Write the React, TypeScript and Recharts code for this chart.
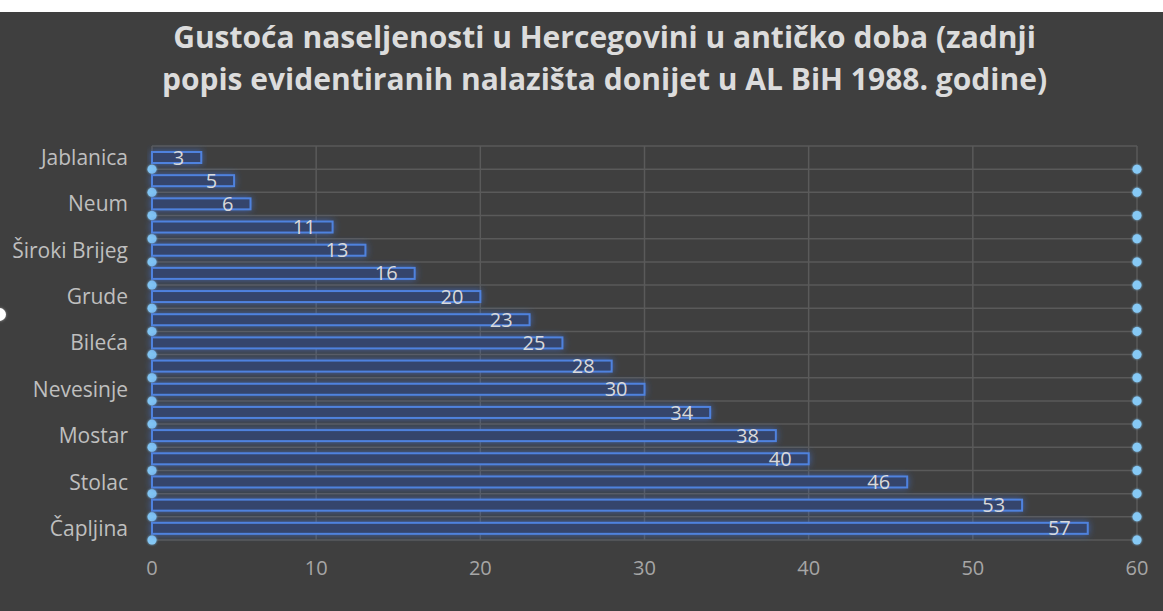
import React from 'react';
import { BarChart, Bar, XAxis, YAxis, CartesianGrid, LabelList } from 'recharts';

// only every second municipality is labelled in the source chart
const names = [
  'Jablanica', '', 'Neum', '', 'Široki Brijeg', '', 'Grude', '', 'Bileća',
  '', 'Nevesinje', '', 'Mostar', '', 'Stolac', '', 'Čapljina',
];
const counts = [3, 5, 6, 11, 13, 16, 20, 23, 25, 28, 30, 34, 38, 40, 46, 53, 57];
const xTicks = [0, 10, 20, 30, 40, 50, 60];
const titleLines = [
  'Gustoća naseljenosti u Hercegovini u antičko doba (zadnji',
  'popis evidentiranih nalazišta donijet u AL BiH 1988. godine)',
];

const data = names.map((name, i) => ({ name, value: counts[i] }));

const FONT = '"Open Sans", Lato, sans-serif';
const BG = '#3f3f3f';
const GRID = '#5a5a5a';

const bandLines = ({ offset }: any) =>
  Array.from({ length: data.length + 1 }, (_, i) => offset.top + (i * offset.height) / data.length);

const GridRow = (p: any) => {
  const { x1, x2, y1, y2, index } = p;
  return (
    <g key={`row-${index}-${y1}`}>
      <line x1={x1} x2={x2} y1={y1} y2={y2} stroke={GRID} strokeWidth={1.5} />
      {index > 0 && (
        <>
          <circle cx={x1} cy={y1} r={4.5} fill="#86c9f5" filter="url(#dotGlow)" />
          <circle cx={x2} cy={y1} r={4.5} fill="#86c9f5" filter="url(#dotGlow)" />
        </>
      )}
    </g>
  );
};

const GlowBar = (p: any) => {
  const { x, y, width, height } = p;
  if (!width) return null;
  return (
    <rect
      x={x}
      y={y}
      width={width}
      height={height}
      fill="#34456c"
      stroke="#4f82de"
      strokeWidth={2}
      filter="url(#barGlow)"
    />
  );
};

export default function App() {
  return (
    <div style={{ position: 'absolute', left: 0, top: 0, width: 1163, height: 611, background: '#fff', overflow: 'hidden' }}>
      <div style={{ position: 'absolute', left: 0, top: 12, width: 1163, height: 599, background: BG }}>
        <div
          style={{
            position: 'absolute',
            left: 46,
            top: 4,
            width: 1117,
            textAlign: 'center',
            fontFamily: FONT,
            fontWeight: 700,
            fontSize: 30,
            lineHeight: '42px',
            color: '#dcdcdc',
          }}
        >
          {titleLines.map((t) => (
            <div key={t}>{t}</div>
          ))}
        </div>
        <BarChart
          width={1163}
          height={599}
          data={data}
          layout="vertical"
          margin={{ top: 134, right: 26, bottom: 31, left: 0 }}
          barSize={11}
        >
          <defs>
            <filter id="barGlow" x="-10%" y="-100%" width="120%" height="300%">
              <feGaussianBlur in="SourceAlpha" stdDeviation="3.5" result="b" />
              <feFlood floodColor="#3f6fd0" floodOpacity="0.75" />
              <feComposite in2="b" operator="in" result="g" />
              <feMerge>
                <feMergeNode in="g" />
                <feMergeNode in="SourceGraphic" />
              </feMerge>
            </filter>
            <filter id="dotGlow" x="-100%" y="-100%" width="300%" height="300%">
              <feGaussianBlur in="SourceGraphic" stdDeviation="1" result="b" />
              <feMerge>
                <feMergeNode in="b" />
                <feMergeNode in="SourceGraphic" />
              </feMerge>
            </filter>
          </defs>
          <CartesianGrid stroke={GRID} strokeWidth={1.5} horizontal={false} />
          <CartesianGrid
            stroke={GRID}
            vertical={false}
            horizontalCoordinatesGenerator={bandLines}
            horizontal={GridRow}
          />
          <XAxis
            type="number"
            domain={[0, 60]}
            ticks={xTicks}
            axisLine={false}
            tickLine={false}
            tickSize={0}
            tickMargin={21}
            height={40}
            tick={{ fill: '#a6a6a6', fontSize: 20, fontFamily: FONT }}
          />
          <YAxis
            type="category"
            dataKey="name"
            width={152}
            interval={0}
            axisLine={false}
            tickLine={false}
            tickSize={0}
            tickMargin={24}
            tick={{ fill: '#bfbfbf', fontSize: 21, fontFamily: FONT }}
          />
          <Bar dataKey="value" shape={GlowBar} isAnimationActive={false}>
            <LabelList
              dataKey="value"
              position="insideRight"
              offset={17}
              fill="#d9d9d9"
              fontSize={20}
              fontFamily={FONT}
            />
          </Bar>
        </BarChart>
      </div>
      <div
        style={{
          position: 'absolute',
          left: -7,
          top: 308,
          width: 13,
          height: 13,
          borderRadius: '50%',
          background: '#fff',
          boxShadow: '0 0 3px #999',
        }}
      />
    </div>
  );
}
